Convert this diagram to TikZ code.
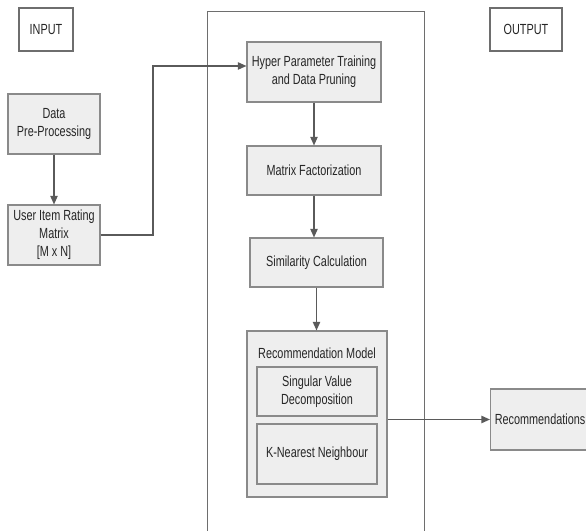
\documentclass[tikz,border=0pt]{standalone}
\usepackage{fontspec}
\setmainfont{Liberation Sans}[FakeStretch=0.74]
\usetikzlibrary{arrows.meta,calc}
\definecolor{boxfill}{HTML}{EEEEEE}
\definecolor{boxline}{HTML}{8A8A8A}
\definecolor{txt}{HTML}{262626}
\definecolor{arrcol}{HTML}{5A5A5A}
\begin{document}
\begin{tikzpicture}[x=0.75pt,y=-0.75pt,
  font=\fontsize{11}{13.5}\selectfont,
  stepbox/.style={draw=boxline,fill=boxfill,line width=0.8pt,text=txt,align=center,inner sep=0pt,anchor=center},
  plainbox/.style={draw=boxline!80!black,fill=white,line width=0.8pt,text=txt,align=center,inner sep=0pt},
  arr/.style={draw=arrcol,line width=1.1pt,-{Triangle[length=6.5pt,width=5.5pt]}}]
\useasboundingbox (0,0) rectangle (586,531);
\fill[white] (0,0) rectangle (586,531);
% frame
\node[draw=boxline!80!black,line width=0.8pt,minimum width=217*0.75pt,minimum height=560*0.75pt,anchor=north west,inner sep=0pt] (frame) at (207,11) {};
\node[plainbox,minimum width=54*0.75pt,minimum height=43*0.75pt] (input) at (46,29.5) {INPUT};
\node[plainbox,minimum width=72*0.75pt,minimum height=43*0.75pt] (output) at (526,29.5) {OUTPUT};
\node[stepbox,minimum width=92*0.75pt,minimum height=60*0.75pt] (pre) at (54,124) {Data\\Pre-Processing};
\node[stepbox,minimum width=92*0.75pt,minimum height=60*0.75pt] (uim) at (54,235) {User Item Rating\\Matrix\\{[M x N]}};
\node[stepbox,minimum width=134*0.75pt,minimum height=60*0.75pt] (hyper) at (314,72) {Hyper Parameter Training\\and Data Pruning};
\node[stepbox,minimum width=134*0.75pt,minimum height=49*0.75pt] (mf) at (314,170.5) {Matrix Factorization};
\node[stepbox,minimum width=133*0.75pt,minimum height=49*0.75pt] (sim) at (316.5,262.5) {Similarity Calculation};
\node[stepbox,minimum width=140*0.75pt,minimum height=166*0.75pt] (rm) at (317,414) {};
\node[text=txt,inner sep=0pt] (rmlabel) at (317,353) {Recommendation Model};
\node[stepbox,minimum width=120*0.75pt,minimum height=49*0.75pt] (svd) at (317,391.5) {Singular Value\\Decomposition};
\node[stepbox,minimum width=120*0.75pt,minimum height=60*0.75pt] (knn) at (317,454) {K-Nearest Neighbour};
\node[stepbox,minimum width=99*0.75pt,minimum height=61*0.75pt,anchor=west] (rec) at (490,419.5) {Recommendations};
% connectors
\coordinate (j) at (153,66);
\draw[arr] (pre.south) -- (uim.north);
\draw[arr] (uim.east) -| (j) -- (j -| hyper.west);
\draw[arr] (hyper.south) -- (mf.north);
\draw[arr] (mf.south) -- (mf.south |- sim.north);
\draw[arr] (sim.south) -- (sim.south |- rm.north);
\draw[arr] (rm.east |- rec.west) -- (rec.west);
\end{tikzpicture}
\end{document}
